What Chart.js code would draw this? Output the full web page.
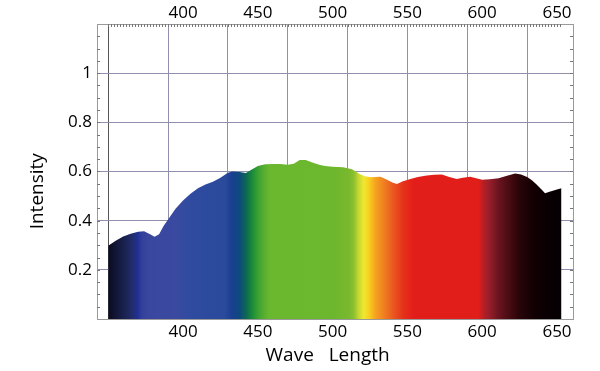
<!DOCTYPE html>
<html>
<head>
<meta charset="utf-8">
<script src="https://cdn.jsdelivr.net/npm/chart.js@4.4.1/dist/chart.umd.min.js"></script>
<style>
  html, body { margin: 0; padding: 0; background: #fff; }
  canvas { display: block; }
</style>
</head>
<body>
<canvas id="spectrum" width="600" height="371"></canvas>
<script>
// ---- data ----
const wavelengths = [350, 355, 360, 365, 370, 374, 378, 381, 384, 387, 390, 395, 400, 405, 410, 415, 420, 425, 430, 433,
  438, 442, 446, 450, 455, 460, 465, 470, 474, 478, 482, 486, 491, 495, 500, 507, 513, 518, 522, 526,
  532, 536, 540, 543, 547, 552, 557, 563, 568, 573, 578, 583, 587, 592, 596, 600, 605, 611, 616, 622,
  626, 630, 633, 636, 640, 642, 645, 650, 653];
const intensity = [0.298, 0.318, 0.336, 0.347, 0.355, 0.357, 0.345, 0.335, 0.345, 0.378, 0.405, 0.448, 0.482, 0.51, 0.532, 0.547, 0.558, 0.575, 0.595, 0.600,
  0.598, 0.594, 0.608, 0.622, 0.629, 0.631, 0.631, 0.627, 0.632, 0.647, 0.647, 0.638, 0.627, 0.622, 0.619, 0.617, 0.609, 0.59, 0.58, 0.577,
  0.579, 0.567, 0.555, 0.549, 0.56, 0.569, 0.578, 0.584, 0.587, 0.588, 0.578, 0.57, 0.575, 0.579, 0.573, 0.566, 0.568, 0.573, 0.582, 0.592,
  0.588, 0.578, 0.565, 0.549, 0.525, 0.512, 0.518, 0.527, 0.532];

const xTickLabels = [400, 450, 500, 550, 600, 650];
const yTickLabels = [0.2, 0.4, 0.6, 0.8, 1];
const xGridLines = [350, 390, 430, 470, 510, 550, 590, 630];

// colour of the fill along the wavelength axis
const colorStopNm = [350, 361, 366.6, 369.5, 372.5, 377, 395, 405, 428, 432.5, 437.8, 442.5, 446, 450, 454.7, 458,
  500, 511, 514.2, 517.5, 520.9, 524.2, 528.9, 534.2, 540.9, 547.6, 554, 597.6, 601, 604.3, 611, 617.7, 624.4, 634.4, 644.4, 653];
const colorStopRgb = ['#0b0b20', '#1a2250', '#222e70', '#1f2f96', '#34409a', '#3a479f', '#3a4aa0', '#2f4b9f', '#2a4a9c', '#1a3f92',
  '#0d4a7e', '#0e6a50', '#1a8a3a', '#3aa032', '#5ab030', '#6ab82e', '#6cb72d', '#7ab82e', '#8cc030', '#c8d830', '#f0e830',
  '#f8d020', '#f5a020', '#f08020', '#ea5520', '#e53019', '#e31e1a', '#e01e1a', '#b51e25', '#9a1f2a', '#6a1420', '#4a0c12',
  '#2a0508', '#120003', '#080002', '#050002'];

// ---- styling ----
const X_MIN = 342.5, X_MAX = 660.7;
const Y_MIN = 0, Y_MAX = 1.2;
const font = { family: "'Open Sans', sans-serif", size: 17 };
const titleFont = { family: "'Open Sans', sans-serif", size: 19 };
const borderGrey = '#9a9a9a';
const gridBlue = '#9090ae';

function spectrumFill(context) {
  const chart = context.chart;
  const { ctx, chartArea, scales } = chart;
  if (!chartArea) return '#6ab82e';
  const x0 = scales.x.getPixelForValue(colorStopNm[0]);
  const x1 = scales.x.getPixelForValue(colorStopNm[colorStopNm.length - 1]);
  const g = ctx.createLinearGradient(x0, 0, x1, 0);
  colorStopNm.forEach((nm, i) => {
    const p = (scales.x.getPixelForValue(nm) - x0) / (x1 - x0);
    g.addColorStop(Math.min(1, Math.max(0, p)), colorStopRgb[i]);
  });
  return g;
}

// small inward ticks on top, left and right edges
const minorTicks = {
  id: 'minorTicks',
  afterDraw(chart) {
    const { ctx, chartArea, scales } = chart;
    ctx.save();
    ctx.strokeStyle = '#777';
    ctx.lineWidth = 1;
    ctx.beginPath();
    for (let nm = 350; nm <= 652; nm += 2) {
      const px = Math.round(scales.x.getPixelForValue(nm)) + 0.5;
      ctx.moveTo(px, chartArea.top);
      ctx.lineTo(px, chartArea.top + 3);
    }
    for (let k = 1; k < 24; k++) {
      const py = Math.round(scales.y.getPixelForValue(k * 0.05)) + 0.5;
      ctx.moveTo(chartArea.left, py);
      ctx.lineTo(chartArea.left + 3, py);
      ctx.moveTo(chartArea.right, py);
      ctx.lineTo(chartArea.right - 3, py);
    }
    ctx.stroke();
    ctx.restore();
  }
};

new Chart(document.getElementById('spectrum'), {
  type: 'line',
  data: {
    datasets: [{
      data: wavelengths.map((w, i) => ({ x: w, y: intensity[i] })),
      fill: 'origin',
      backgroundColor: spectrumFill,
      borderWidth: 0,
      pointRadius: 0,
      tension: 0
    }]
  },
  options: {
    responsive: false,
    animation: false,
    devicePixelRatio: 1,
    layout: { padding: 0 },
    plugins: { legend: { display: false }, tooltip: { enabled: false } },
    scales: {
      x: {
        type: 'linear', position: 'bottom', min: X_MIN, max: X_MAX,
        afterFit: s => { s.height = 52; },
        afterBuildTicks: s => { s.ticks = xTickLabels.map(v => ({ value: v })); },
        grid: { display: false, drawTicks: false },
        border: { display: true, color: borderGrey },
        ticks: { font, color: '#000', padding: 3, maxRotation: 0, autoSkip: false },
        // trailing spaces nudge the title left, as in the original
        title: { display: true, text: 'Wave   Length   ', font: titleFont, color: '#000', padding: { top: 0, bottom: 4 } }
      },
      xGrid: {
        type: 'linear', position: 'bottom', min: X_MIN, max: X_MAX,
        afterFit: s => { s.height = 0; },
        afterBuildTicks: s => { s.ticks = xGridLines.map(v => ({ value: v })); },
        grid: { drawTicks: false, color: c => (c.tick && c.tick.value === 350) ? '#555' : gridBlue },
        border: { display: false },
        ticks: { display: false }
      },
      xTop: {
        type: 'linear', position: 'top', min: X_MIN, max: X_MAX,
        afterFit: s => { s.height = 24; },
        afterBuildTicks: s => { s.ticks = xTickLabels.map(v => ({ value: v })); },
        grid: { display: false, drawTicks: false },
        border: { display: true, color: borderGrey },
        ticks: { font, color: '#000', padding: 1, maxRotation: 0, autoSkip: false }
      },
      y: {
        type: 'linear', position: 'left', min: Y_MIN, max: Y_MAX,
        afterFit: s => { s.width = 97; },
        afterBuildTicks: s => { s.ticks = yTickLabels.map(v => ({ value: v })); },
        grid: { drawTicks: false, color: gridBlue },
        border: { display: true, color: borderGrey },
        ticks: { font, color: '#000', padding: 5, callback: v => String(v) },
        // trailing spaces push the title down toward the data
        title: { display: true, text: 'Intensity        ', font: titleFont, color: '#000', padding: { top: 26, bottom: 0 } }
      },
      yRight: {
        type: 'linear', position: 'right', min: Y_MIN, max: Y_MAX,
        afterFit: s => { s.width = 27; },
        grid: { display: false, drawTicks: false },
        border: { display: true, color: borderGrey },
        ticks: { display: false }
      }
    }
  },
  plugins: [minorTicks]
});
</script>
</body>
</html>
